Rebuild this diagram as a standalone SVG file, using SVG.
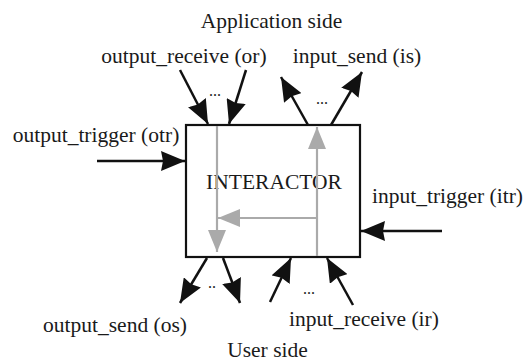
<svg xmlns="http://www.w3.org/2000/svg" width="527" height="361" viewBox="0 0 527 361">
<style>
text{font-family:"Liberation Serif","Times New Roman",serif;font-size:21.5px;fill:#1a1a1a;text-anchor:middle}
.dots{font-size:16px}
.blk{stroke:#111;stroke-width:2.5;fill:none;marker-end:url(#ab)}
.gry{stroke:#aaa;stroke-width:2.2;fill:none;marker-end:url(#ag)}
</style>
<defs>
<marker id="ab" markerUnits="userSpaceOnUse" markerWidth="25" markerHeight="20" refX="24" refY="10" orient="auto">
<path d="M0,0 L24,10 L0,20 L2,10 z" fill="#111"/>
</marker>
<marker id="ag" markerUnits="userSpaceOnUse" markerWidth="22" markerHeight="18" refX="22" refY="9" orient="auto">
<path d="M0,0 L22,9 L0,18 z" fill="#aaa"/>
</marker>
</defs>
<rect width="527" height="361" fill="#fff"/>
<g id="interactor">
<rect x="186" y="125" width="174" height="132" fill="#fff" stroke="#111" stroke-width="2.2"/>
<text x="274" y="189">INTERACTOR</text>
</g>
<g id="connectors">
<path class="gry" d="M217,126 L217,252"/>
<path class="gry" d="M317,256 L317,127"/>
<path class="gry" d="M317,218 L218,218"/>
<path class="blk" d="M180,70 L208,124"/>
<path class="blk" d="M246,70 L229,124"/>
<path class="blk" d="M308,125 L281,77"/>
<path class="blk" d="M331,125 L362,72"/>
<path class="blk" d="M97,161 L185,161"/>
<path class="blk" d="M442,231 L361,231"/>
<path class="blk" d="M207,258 L180,303"/>
<path class="blk" d="M223,258 L240,303"/>
<path class="blk" d="M270,302 L291,258"/>
<path class="blk" d="M353,305 L327,258"/>
</g>
<g id="labels">
<text x="271.5" y="28">Application side</text>
<text x="184" y="63">output_receive (or)</text>
<text x="357" y="63">input_send (is)</text>
<text x="96" y="142">output_trigger (otr)</text>
<text x="447.5" y="203">input_trigger (itr)</text>
<text x="115" y="332">output_send (os)</text>
<text x="364" y="326">input_receive (ir)</text>
<text x="267.5" y="357">User side</text>
<text class="dots" x="215" y="96">...</text>
<text class="dots" x="322" y="104">...</text>
<text class="dots" x="212" y="288">..</text>
<text class="dots" x="309" y="294">...</text>
</g>
</svg>
